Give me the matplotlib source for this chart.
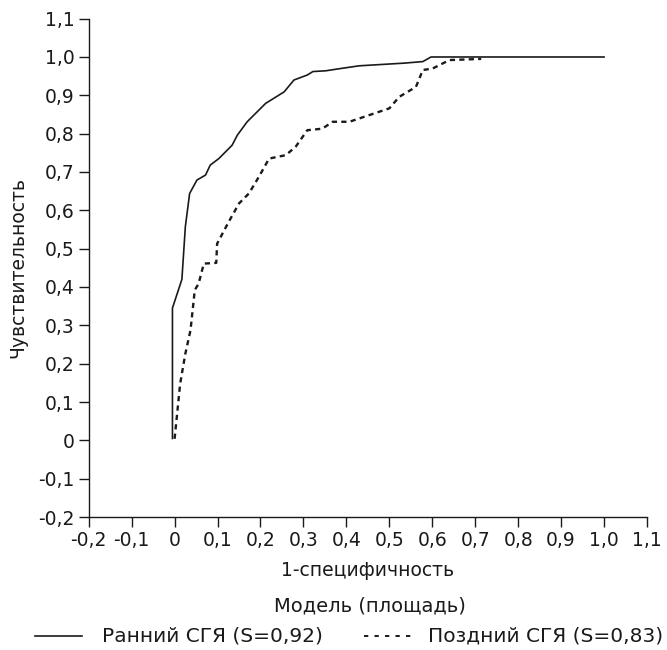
import matplotlib
matplotlib.use("Agg")
import matplotlib.pyplot as plt
from matplotlib.ticker import FixedLocator, FixedFormatter
from matplotlib.lines import Line2D

plt.rcParams['font.family'] = ['DejaVu Sans']

# Ранний СГЯ (S=0,92)
early_x = [-0.005, -0.005, 0.017, 0.025, 0.035, 0.052, 0.072, 0.083, 0.103, 0.134, 0.146,
           0.169, 0.212, 0.255, 0.278, 0.309, 0.322, 0.352, 0.387, 0.43, 0.535, 0.578, 0.597, 1.0]
early_y = [0.005, 0.345, 0.42, 0.557, 0.644, 0.679, 0.692, 0.718, 0.735, 0.770, 0.796,
           0.831, 0.879, 0.909, 0.940, 0.953, 0.962, 0.964, 0.970, 0.977, 0.984, 0.988, 1.0, 1.0]

# Поздний СГЯ (S=0,83)
late_x = [0.0, 0.013, 0.025, 0.037, 0.047, 0.056, 0.068, 0.097, 0.099, 0.126, 0.150, 0.173,
          0.196, 0.220, 0.259, 0.282, 0.309, 0.344, 0.368, 0.407, 0.50, 0.523, 0.562, 0.578,
          0.601, 0.640, 0.714]
late_y = [0.004, 0.148, 0.226, 0.287, 0.392, 0.409, 0.461, 0.463, 0.513, 0.570, 0.618, 0.644,
          0.687, 0.735, 0.744, 0.766, 0.809, 0.813, 0.831, 0.831, 0.866, 0.896, 0.922, 0.966,
          0.970, 0.992, 0.995]

ticks = [-0.2, -0.1, 0.0, 0.1, 0.2, 0.3, 0.4, 0.5, 0.6, 0.7, 0.8, 0.9, 1.0, 1.1]
tick_labels = ['-0,2', '-0,1', '0', '0,1', '0,2', '0,3', '0,4', '0,5', '0,6', '0,7', '0,8',
               '0,9', '1,0', '1,1']

labels = ['Ранний СГЯ (S=0,92)', 'Поздний СГЯ (S=0,83)']
legend_title = 'Модель (площадь)'

INK = '#1a1a1a'
FS = 13.5
W, H = 667, 650
fig = plt.figure(figsize=(W / 100, H / 100), dpi=100)
ax = fig.add_axes([0.133, 0.2046, 0.837, 0.7667])

solid = dict(color=INK, lw=1.2, linestyle='-')
dashed = dict(color=INK, lw=1.7, linestyle=(0, (2.2, 1.8)))
ax.plot(early_x, early_y, **solid)
ax.plot(late_x, late_y, **dashed)

ax.set_xlim(-0.2, 1.1)
ax.set_ylim(-0.2, 1.1)
ax.xaxis.set_major_locator(FixedLocator(ticks))
ax.xaxis.set_major_formatter(FixedFormatter(tick_labels))
ax.yaxis.set_major_locator(FixedLocator(ticks))
ax.yaxis.set_major_formatter(FixedFormatter(tick_labels))
for s in ['top', 'right']:
    ax.spines[s].set_visible(False)
for s in ['left', 'bottom']:
    ax.spines[s].set_linewidth(1.0)
    ax.spines[s].set_color(INK)
ax.tick_params(direction='out', length=7, width=1.0, labelsize=FS, colors=INK, pad=3)
ax.set_xlabel('1-специфичность', fontsize=FS, labelpad=8, color=INK)
ax.set_ylabel('Чувствительность', fontsize=FS, labelpad=8, color=INK)

# legend drawn manually below the axes
fy = lambda py: 1 - py / H
fx = lambda px: px / W
fig.text(fx(370), fy(606), legend_title, fontsize=14, color=INK, ha='center', va='center')
ey = fy(636)
fig.add_artist(Line2D([fx(35), fx(82)], [ey, ey], transform=fig.transFigure, **solid))
fig.text(fx(102), ey, labels[0], fontsize=14.5, color=INK, ha='left', va='center')
fig.add_artist(Line2D([fx(364), fx(414)], [ey, ey], transform=fig.transFigure,
                      color=INK, lw=1.4, linestyle=(0, (2.2, 3.2))))
fig.text(fx(428), ey, labels[1], fontsize=14.5, color=INK, ha='left', va='center')

fig.savefig('out.png', dpi=100)
